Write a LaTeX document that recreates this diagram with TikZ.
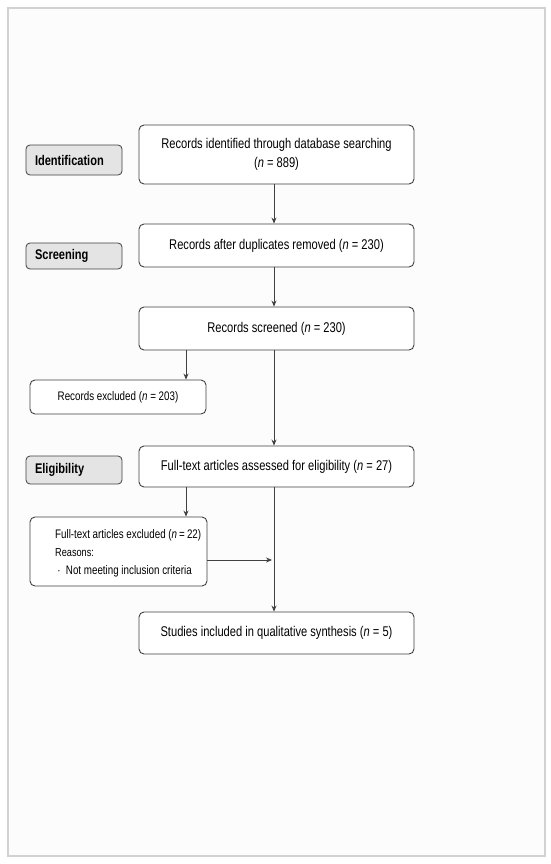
\documentclass[tikz,border=0pt]{standalone}
\usepackage{fontspec}
\setmainfont[FakeStretch=0.79]{Liberation Sans}
\usetikzlibrary{arrows.meta,calc}
\definecolor{boxline}{HTML}{404040}
\definecolor{labfill}{HTML}{E4E4E4}
\definecolor{frameline}{HTML}{D2D2D2}
\begin{document}
\begin{tikzpicture}[x=1pt,y=-1pt,
  flowbox/.style={draw=boxline,line width=0.9pt,rounded corners=5pt,fill=white,minimum width=275pt,align=center,font=\fontsize{14.1}{19}\selectfont,inner sep=0pt},
  sidebox/.style={draw=boxline,line width=0.9pt,rounded corners=5pt,fill=white,inner sep=0pt,font=\fontsize{12.4}{14}\selectfont},
  sidetext/.style={anchor=west,align=left,inner sep=0pt,font=\fontsize{12.4}{18}\selectfont},
  stagelabel/.style={draw=boxline,line width=0.8pt,rounded corners=4pt,fill=labfill,minimum width=96pt,text width=78pt,align=left,inner sep=0pt,font=\fontsize{14}{15}\selectfont\bfseries},
  arr/.style={-{Stealth[length=6pt,width=5pt]},line width=0.8pt,draw=boxline}]
\useasboundingbox (0,0) rectangle (550,864);
\fill[white] (0,0) rectangle (550,864);
\draw[frameline,line width=1.2pt,fill=white!99!black] (8,8) rectangle (545,856);

\node[flowbox,minimum height=59pt] (b1) at (276.5,154.5) {Records identified through database searching\\(\textit{n} = 889)};
\node[flowbox,minimum height=43pt] (b2) at (276.5,245.5) {Records after duplicates removed (\textit{n} = 230)};
\node[flowbox,minimum height=43pt] (b3) at (276.5,328.5) {Records screened (\textit{n} = 230)};
\node[flowbox,minimum height=41pt] (b4) at (276.5,466.5) {Full-text articles assessed for eligibility (\textit{n} = 27)};
\node[flowbox,minimum height=42pt] (b5) at (276.5,633) {Studies included in qualitative synthesis (\textit{n} = 5)};

\node[sidebox,minimum width=176pt,minimum height=34pt] (e1) at (118,397) {Records excluded (\textit{n} = 203)};
\node[sidebox,minimum width=177pt,minimum height=69pt] (e2) at (118.5,551.5) {};
\node[sidetext] (e2t) at (55,553) {Full-text articles excluded (\textit{n}\,=\,22)\\
{\fontsize{11.6}{13}\selectfont Reasons:}\\
{\,\textperiodcentered\ \ Not meeting inclusion criteria}};

\node[stagelabel,minimum height=30pt] (l1) at (74,160) {Identification};
\node[stagelabel,minimum height=26pt] (l2) at (74,256) {Screening};
\node[stagelabel,minimum height=28pt] (l3) at (74,470) {Eligibility};

\draw[arr] ([xshift=-2.5pt]b1.south) -- ([xshift=-2.5pt]b2.north);
\draw[arr] ([xshift=-2.5pt]b2.south) -- ([xshift=-2.5pt]b3.north);
\draw[arr] ([xshift=-2.5pt]b3.south) -- ([xshift=-2.5pt]b4.north);
\draw[arr] ([xshift=-90.5pt]b3.south) -- ([xshift=-90.5pt]b3.south |- e1.north);
\draw[arr] ([xshift=-2.5pt]b4.south) -- ([xshift=-2.5pt]b5.north);
\draw[arr] ([xshift=-90.5pt]b4.south) -- ([xshift=-90.5pt]b4.south |- e2.north);
\coordinate (m) at ($([xshift=-4.5pt]b4.south)!0.5!([xshift=-4.5pt]b5.north)$);
\draw[arr] ([yshift=-8.5pt]e2.east) -- ([yshift=-8.5pt]e2.east -| m);
\end{tikzpicture}
\end{document}
